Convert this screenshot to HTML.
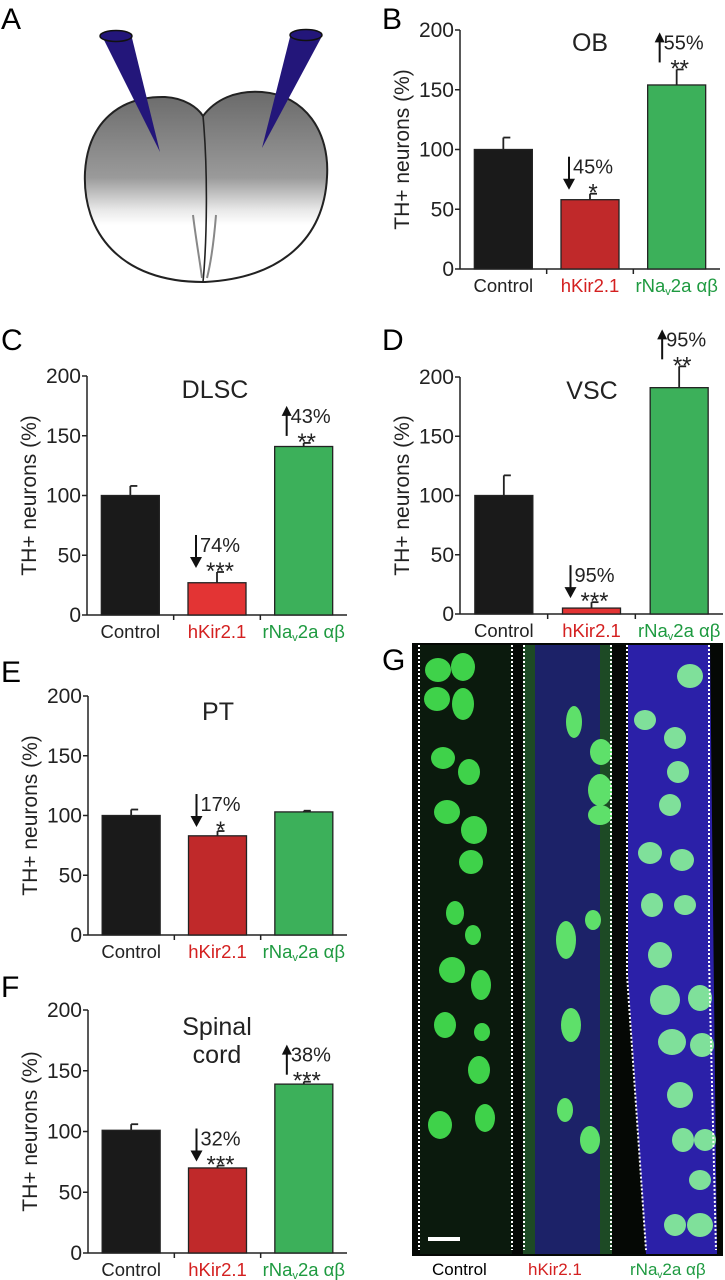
<!DOCTYPE html>
<html><head><meta charset="utf-8"><style>
html,body{margin:0;padding:0;background:#fff;}
svg{display:block;font-family:"Liberation Sans",Arial,sans-serif;}
</style></head><body>
<svg id="fig" width="725" height="1280" viewBox="0 0 725 1280" xmlns="http://www.w3.org/2000/svg">
<defs>
<linearGradient id="eggGrad" x1="0" y1="0" x2="0" y2="1">
<stop offset="0" stop-color="#6a6a6a"/><stop offset="0.45" stop-color="#9a9a9a"/><stop offset="0.62" stop-color="#e8e8e8"/><stop offset="0.7" stop-color="#fff"/><stop offset="1" stop-color="#fff"/>
</linearGradient>
</defs>
<!-- Panel A -->
<g>
<text x="1" y="29" font-size="30">A</text>
<path d="M203,282 C120,282 82,232 85,172 C88,122 120,96 165,97 C185,98 198,108 203,116 C215,100 235,90 262,92 C305,95 330,132 327,177 C324,238 282,278 205,282 Z" fill="url(#eggGrad)" stroke="#222" stroke-width="2"/>
<path d="M203,116 C208,170 207,240 203,282" fill="none" stroke="#222" stroke-width="1.6"/>
<path d="M193,215 C196,240 200,262 202,278 M216,215 C214,240 211,262 207,278" fill="none" stroke="#888" stroke-width="2"/>
<polygon points="101,34 132,38 160,152" fill="#23167a"/>
<ellipse cx="116" cy="36" rx="16" ry="5.5" fill="#23167a" stroke="#111" stroke-width="1.5"/>
<polygon points="291,33 321,38 262,148" fill="#23167a"/>
<ellipse cx="306" cy="35" rx="16" ry="5.5" fill="#23167a" stroke="#111" stroke-width="1.5"/>
</g>
<g id="charts"></g>
<!-- Panel G -->
<g>
<text x="382" y="670" font-size="30">G</text>
<rect x="412" y="643" width="311" height="613" fill="#050805"/>
<rect x="420" y="645" width="92" height="609" fill="#0b1a0d"/>
<polygon points="523,645 612,645 611,1254 524,1254" fill="#1c2268"/>
<rect x="523" y="645" width="12" height="609" fill="#1d4a25"/>
<rect x="600" y="645" width="12" height="609" fill="#1d4a25"/>
<polygon points="628,645 710,645 717,1254 646,1254 628,980" fill="#2b20a8"/>
<g fill="#3fd24a">
<ellipse cx="438" cy="670" rx="13" ry="12"/><ellipse cx="463" cy="667" rx="12" ry="14"/><ellipse cx="437" cy="699" rx="13" ry="12"/><ellipse cx="463" cy="704" rx="11" ry="16"/>
<ellipse cx="443" cy="758" rx="12" ry="11"/><ellipse cx="469" cy="772" rx="11" ry="13"/><ellipse cx="447" cy="812" rx="13" ry="12"/><ellipse cx="474" cy="830" rx="13" ry="14"/><ellipse cx="471" cy="862" rx="12" ry="12"/>
<ellipse cx="455" cy="913" rx="9" ry="12"/><ellipse cx="473" cy="935" rx="8" ry="10"/><ellipse cx="452" cy="970" rx="13" ry="13"/><ellipse cx="481" cy="985" rx="10" ry="15"/>
<ellipse cx="445" cy="1025" rx="11" ry="13"/><ellipse cx="482" cy="1032" rx="8" ry="9"/><ellipse cx="479" cy="1070" rx="11" ry="14"/><ellipse cx="440" cy="1125" rx="12" ry="14"/><ellipse cx="485" cy="1118" rx="10" ry="14"/>
</g>
<g fill="#5ee06a">
<ellipse cx="574" cy="722" rx="8" ry="16"/><ellipse cx="601" cy="752" rx="11" ry="13"/><ellipse cx="600" cy="790" rx="12" ry="16"/><ellipse cx="600" cy="815" rx="12" ry="10"/>
<ellipse cx="566" cy="940" rx="10" ry="19"/><ellipse cx="593" cy="920" rx="8" ry="10"/><ellipse cx="571" cy="1025" rx="10" ry="17"/><ellipse cx="565" cy="1110" rx="8" ry="12"/><ellipse cx="590" cy="1140" rx="10" ry="14"/>
</g>
<g fill="#7fe09a">
<ellipse cx="690" cy="676" rx="13" ry="12"/><ellipse cx="645" cy="720" rx="11" ry="10"/><ellipse cx="675" cy="738" rx="11" ry="11"/><ellipse cx="678" cy="772" rx="11" ry="11"/><ellipse cx="670" cy="805" rx="11" ry="11"/>
<ellipse cx="650" cy="853" rx="12" ry="11"/><ellipse cx="682" cy="860" rx="12" ry="11"/><ellipse cx="652" cy="905" rx="11" ry="12"/><ellipse cx="685" cy="905" rx="11" ry="10"/><ellipse cx="660" cy="955" rx="12" ry="13"/>
<ellipse cx="665" cy="1000" rx="15" ry="15"/><ellipse cx="700" cy="998" rx="12" ry="13"/><ellipse cx="672" cy="1042" rx="14" ry="13"/><ellipse cx="702" cy="1045" rx="12" ry="12"/><ellipse cx="680" cy="1095" rx="13" ry="13"/>
<ellipse cx="683" cy="1140" rx="11" ry="12"/><ellipse cx="705" cy="1140" rx="11" ry="11"/><ellipse cx="700" cy="1180" rx="11" ry="10"/><ellipse cx="700" cy="1225" rx="13" ry="12"/><ellipse cx="675" cy="1225" rx="11" ry="11"/>
</g>
<g stroke="#fff" stroke-width="2" stroke-dasharray="2,2" fill="none">
<line x1="419" y1="645" x2="419" y2="1250"/><line x1="512" y1="645" x2="512" y2="1250"/>
<line x1="524" y1="645" x2="524" y2="1250"/><line x1="611" y1="645" x2="611" y2="1250"/>
<polyline points="627,645 627,975 646,1250"/><polyline points="709,645 709,960 716,1250"/>
</g>
<rect x="428" y="1237" width="32" height="4" fill="#fff"/>
<text x="432" y="1275" font-size="17">Control</text>
<text x="528" y="1275" font-size="17" fill="#d42020">hKir2.1</text>
<text x="630" y="1275" font-size="17" fill="#1e9a40">rNa<tspan font-size="10" dy="3">v</tspan><tspan dy="-3">2a αβ</tspan></text>
</g>
</svg>
<script>
const categories = ["Control", "hKir2.1", "rNav2a αβ"];
const panelNames = ["B", "C", "D", "E", "F"];
const obValues = [100, 58, 154];
const obErrors = [10, 5, 13];
const dlscValues = [100, 27, 141];
const dlscErrors = [8, 9, 3];
const vscValues = [100, 5, 191];
const vscErrors = [17, 5, 18];
const ptValues = [100, 83, 103];
const ptErrors = [5, 4, 1];
const scValues = [101, 70, 139];
const scErrors = [5, 2, 2];
const yTicks = [0, 50, 100, 150, 200];
const obNotes = ["", "45%|*", "55%|**"];
const dlscNotes = ["", "74%|***", "43%|**"];
const vscNotes = ["", "95%|***", "95%|**"];
const ptNotes = ["", "17%|*", ""];
const scNotes = ["", "32%|***", "38%|***"];

const NS = "http://www.w3.org/2000/svg";
const root = document.getElementById("charts");
function mk(tag, attrs, parent) {
  const e = document.createElementNS(NS, tag);
  for (const k in attrs) e.setAttribute(k, attrs[k]);
  parent.appendChild(e);
  return e;
}
const layouts = [
  {ax:460, y0:269, y200:30, end:720, lx:382, ly:29, title:["OB"], tx:590, ty:51, red:"#c0292a", vals:obValues, errs:obErrors, notes:obNotes},
  {ax:87, y0:615, y200:376, end:347, lx:1, ly:350, title:["DLSC"], tx:215, ty:398, red:"#e33434", vals:dlscValues, errs:dlscErrors, notes:dlscNotes},
  {ax:460, y0:614, y200:377, end:723, lx:382, ly:350, title:["VSC"], tx:592, ty:399, red:"#e33434", vals:vscValues, errs:vscErrors, notes:vscNotes},
  {ax:88, y0:935, y200:696, end:347, lx:1, ly:682, title:["PT"], tx:218, ty:720, red:"#c0292a", vals:ptValues, errs:ptErrors, notes:ptNotes},
  {ax:88, y0:1253, y200:1010, end:347, lx:1, ly:997, title:["Spinal","cord"], tx:217, ty:1035, red:"#c0292a", vals:scValues, errs:scErrors, notes:scNotes}
];
layouts.forEach((L, pi) => {
  const g = mk("g", {}, root);
  
  
  const y = v => L.y0 - (v / 200) * (L.y0 - L.y200);
  const band = (L.end - L.ax) / 3;
  const bw = 58;
  const lab = mk("text", {x:L.lx, y:L.ly, "font-size":30}, g); lab.textContent = panelNames[pi];
  
  
  const ya = mk("line", {x1:L.ax, y1:L.y200, x2:L.ax, y2:L.y0, stroke:"#222", "stroke-width":1.5}, g);
  
  
  const xa = mk("line", {x1:L.ax, y1:L.y0, x2:L.end, y2:L.y0, stroke:"#222", "stroke-width":1.5}, g);
  
  
  yTicks.forEach(t => {
    mk("line", {x1:L.ax-5, y1:y(t), x2:L.ax, y2:y(t), stroke:"#222", "stroke-width":1.5}, g);
    const tl = mk("text", {x:L.ax-6, y:y(t)+7, "font-size":21, "text-anchor":"end", fill:"#222"}, g);
    tl.textContent = t;
    
    
  });
  for (let i = 1; i < 3; i++) mk("line", {x1:L.ax+band*i, y1:L.y0, x2:L.ax+band*i, y2:L.y0+5, stroke:"#222", "stroke-width":1.5}, g);
  const yt = mk("text", {x:0, y:0, "font-size":21, "text-anchor":"middle", fill:"#222", transform:`translate(${L.ax-51},${(L.y0+L.y200)/2}) rotate(-90)`}, g);
  yt.textContent = "TH+ neurons (%)";
  
  
  L.title.forEach((s, k) => {
    const tt = mk("text", {x:L.tx, y:L.ty + k*28, "font-size":25, "text-anchor":"middle", fill:"#222"}, g);
    tt.textContent = s;
    
    
  });
  const fills = ["#1a1a1a", L.red, "#3cb05a"];
  const tcol = ["#222", "#d42020", "#1e9a40"];
  categories.forEach((c, i) => {
    const cx = L.ax + band*(i+0.5);
    const x0 = cx - bw/2;
    const v = L.vals[i], e = L.errs[i];
    const et = y(v+e);
    const eb = mk("line", {x1:cx, y1:y(v), x2:cx, y2:et, stroke:"#222", "stroke-width":1.8}, g);
    
    
    mk("line", {x1:cx, y1:et, x2:cx+7, y2:et, stroke:"#222", "stroke-width":1.8}, g);
    const b = mk("rect", {x:x0, y:y(v), width:bw, height:L.y0 - y(v), fill:fills[i], stroke:"#222", "stroke-width":1.3}, g);
    
    
    const cl = mk("text", {x:cx, y:L.y0+23, "font-size":18.5, "text-anchor":"middle", fill:tcol[i]}, g);
    if (i === 2) { cl.innerHTML = 'rNa<tspan font-size="11" dy="3">v</tspan><tspan dy="-3">2a αβ</tspan>'; }
    else cl.textContent = c;
    
    
    const n = L.notes[i];
    if (n) {
      const [pct, stars] = n.split("|");
      const up = i === 2;
      const ann = mk("g", {}, g);
      
      
      const axx = x0 + (up ? 12 : 8);
      const top = et - 37, bot = et - (up ? 7 : 4);
      mk("line", {x1:axx, y1:up ? bot : top, x2:axx, y2:up ? top+8 : bot-8, stroke:"#111", "stroke-width":2}, ann);
      if (up) mk("polygon", {points:`${axx-5},${top+10} ${axx+5},${top+10} ${axx},${top}`, fill:"#111"}, ann);
      else mk("polygon", {points:`${axx-6},${bot-11} ${axx+6},${bot-11} ${axx},${bot}`, fill:"#111"}, ann);
      const pt = mk("text", {x:axx+4, y:et-20, "font-size":20, fill:"#222"}, ann); pt.textContent = pct;
      const st = mk("text", {x:cx+3, y:et + 7, "font-size":24, "text-anchor":"middle", fill:"#222"}, ann); st.textContent = stars;
    }
  });
});
</script>
</body></html>
